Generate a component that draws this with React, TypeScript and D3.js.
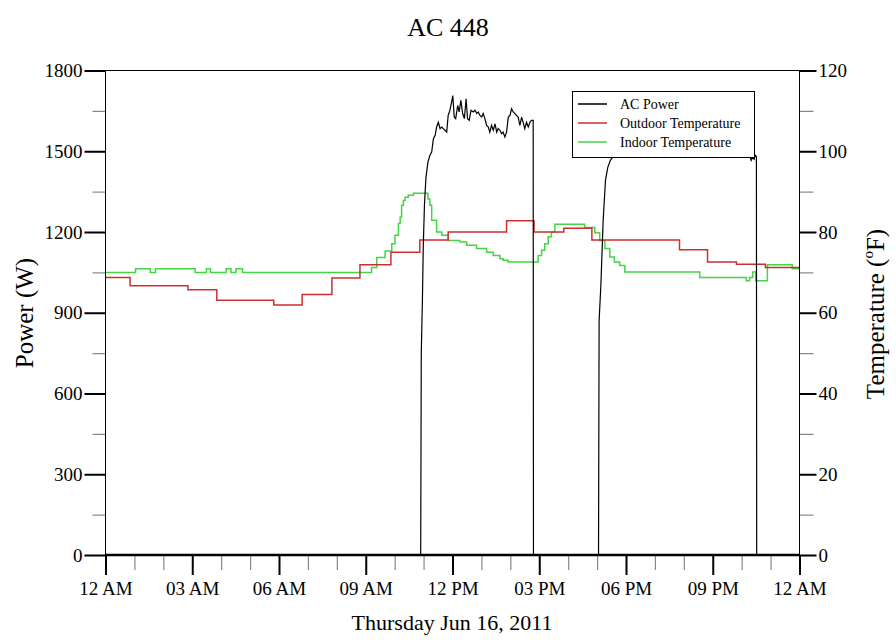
import React, { useRef, useEffect } from 'react';
import * as d3 from 'd3';

// hour of day, value
const outdoorTemp: [number, number][] = [
  [0, 68.7], [0.85, 66.7], [2.85, 65.7], [3.85, 63.1], [5.82, 61.9], [6.8, 64.5],
  [7.83, 68.6], [8.8, 71.9], [9.87, 75.0], [10.87, 78.0], [11.85, 80.0], [13.87, 82.8],
  [14.82, 80.0], [15.85, 80.9], [16.82, 78.0], [19.85, 75.6], [20.82, 72.6],
  [21.82, 72.0], [22.82, 71.2], [24, 71.2],
];

const indoorTemp: [number, number][] = [
  [0, 70.0], [1.04, 70.9], [1.55, 70.0], [1.73, 70.9], [3.1, 70.0], [3.49, 70.9],
  [3.63, 70.0], [4.17, 70.9], [4.34, 70.0], [4.51, 70.9], [4.74, 70.0], [9.2, 71.2],
  [9.38, 73.7], [9.67, 75.3], [9.9, 77.1], [10.01, 79.2], [10.13, 82.1], [10.19, 83.7],
  [10.24, 86.6], [10.3, 87.8], [10.36, 88.6], [10.47, 89.1], [10.65, 89.6], [11.15, 88.2],
  [11.22, 86.6], [11.28, 82.9], [11.45, 80.0], [11.63, 79.2], [11.85, 77.9], [12.26, 77.5],
  [12.49, 76.7], [12.83, 75.9], [13.18, 75.0], [13.41, 74.2], [13.64, 73.4], [13.75, 73.0],
  [13.92, 72.6], [14.96, 74.2], [15.08, 75.5], [15.19, 77.1], [15.31, 78.8], [15.42, 80.0],
  [15.54, 81.9], [16.57, 81.1], [16.92, 79.8], [17.09, 77.9], [17.27, 75.9], [17.44, 73.8],
  [17.6, 72.6], [17.78, 71.7], [17.96, 70.1], [20.55, 68.7], [22.16, 67.9], [22.27, 68.7],
  [22.38, 70.1], [22.49, 67.9], [22.89, 71.9], [23.75, 70.9], [24, 70.9],
];

const acPower: [number, number][] = [
  [0, 0], [10.9, 0], [10.92, 750], [10.96, 950], [10.99, 1150], [11.03, 1300], [11.08, 1400],
  [11.15, 1460], [11.22, 1485], [11.28, 1497], [11.34, 1547], [11.4, 1559], [11.45, 1590],
  [11.51, 1608], [11.57, 1584], [11.63, 1590], [11.68, 1584], [11.74, 1578], [11.8, 1571],
  [11.85, 1633], [11.91, 1652], [11.97, 1683], [12.01, 1707], [12.06, 1627], [12.11, 1621],
  [12.18, 1670], [12.23, 1646], [12.29, 1689], [12.35, 1640], [12.41, 1621], [12.47, 1695],
  [12.52, 1621], [12.58, 1615], [12.64, 1652], [12.72, 1646], [12.78, 1652], [12.84, 1640],
  [12.89, 1646], [12.95, 1633], [13.01, 1627], [13.06, 1640], [13.12, 1621], [13.18, 1596],
  [13.24, 1590], [13.29, 1571], [13.35, 1596], [13.41, 1578], [13.47, 1602], [13.53, 1571],
  [13.58, 1584], [13.64, 1578], [13.7, 1565], [13.75, 1571], [13.81, 1553], [13.87, 1571],
  [13.93, 1627], [13.99, 1633], [14.04, 1658], [14.1, 1646], [14.16, 1640], [14.21, 1633],
  [14.27, 1627], [14.33, 1596], [14.39, 1627], [14.44, 1608], [14.5, 1584], [14.56, 1608],
  [14.62, 1590], [14.68, 1608], [14.73, 1615], [14.79, 1615], [14.8, 0], [17.05, 0],
  [17.07, 870], [17.13, 1000], [17.21, 1243], [17.29, 1392], [17.37, 1440], [17.46, 1466],
  [17.55, 1480], [17.8, 1495], [18.2, 1510], [18.6, 1505], [19.0, 1520], [19.4, 1500],
  [19.8, 1515], [20.2, 1505], [20.6, 1498], [21.0, 1510], [21.4, 1500], [21.8, 1495],
  [22.2, 1505], [22.33, 1466], [22.37, 1477], [22.43, 1470], [22.47, 1485], [22.51, 1480],
  [22.52, 0], [24, 0],
];

const hourLabels = ['12 AM', '03 AM', '06 AM', '09 AM', '12 PM', '03 PM', '06 PM', '09 PM', '12 AM'];
const powerTicks = [0, 300, 600, 900, 1200, 1500, 1800];
const powerMinor = [150, 450, 750, 1050, 1350, 1650];
const tempTicks = [0, 20, 40, 60, 80, 100, 120];
const tempMinor = [10, 30, 50, 70, 90, 110];

const legendNames = ['AC Power', 'Outdoor Temperature', 'Indoor Temperature'];
const legendColors = ['#000000', '#cc2f2f', '#44d444'];

const FONT = "'Liberation Serif', 'Times New Roman', serif";

export default function App() {
  const svgRef = useRef<SVGSVGElement>(null);

  useEffect(() => {
    const svg = d3.select(svgRef.current);
    svg.selectAll('*').remove();

    const left = 105.5, right = 799.5, top = 70.5, bottom = 555;

    const x = d3.scaleLinear().domain([0, 24]).range([left, right]);
    const yP = d3.scaleLinear().domain([0, 1800]).range([bottom, top]);
    const yT = d3.scaleLinear().domain([0, 120]).range([bottom, top]);

    svg.append('rect').attr('width', 896).attr('height', 640).attr('fill', '#fff');

    // title + axis titles
    svg.append('text').attr('x', 448).attr('y', 36).attr('text-anchor', 'middle')
      .attr('font-family', FONT).attr('font-size', 26).text('AC 448');
    svg.append('text').attr('x', 452).attr('y', 630).attr('text-anchor', 'middle')
      .attr('font-family', FONT).attr('font-size', 22).text('Thursday Jun 16, 2011');
    svg.append('text').attr('transform', 'translate(33,313) rotate(-90)')
      .attr('text-anchor', 'middle').attr('font-family', FONT).attr('font-size', 25)
      .text('Power (W)');
    const tl = svg.append('text').attr('transform', 'translate(884,314) rotate(-90)')
      .attr('text-anchor', 'middle').attr('font-family', FONT).attr('font-size', 25);
    tl.append('tspan').text('Temperature (');
    tl.append('tspan').attr('font-size', 15).attr('dy', -11).text('o');
    tl.append('tspan').attr('dy', 11).text('F)');

    const styleAxis = (g: any, major: boolean) => {
      g.select('.domain').remove();
      g.selectAll('line').attr('stroke', major ? '#000' : '#888').attr('stroke-width', major ? 2 : 1.2);
      g.attr('font-family', FONT).attr('font-size', 19);
      g.selectAll('text').attr('fill', '#000');
    };
    const plain = d3.format('d');

    // left axis
    svg.append('g').attr('transform', `translate(${left},0)`)
      .call(d3.axisLeft(yP).tickValues(powerMinor).tickSize(13).tickFormat(() => ''))
      .call((g: any) => styleAxis(g, false));
    svg.append('g').attr('transform', `translate(${left},0)`)
      .call(d3.axisLeft(yP).tickValues(powerTicks).tickSize(21).tickPadding(2).tickFormat(plain))
      .call((g: any) => styleAxis(g, true));

    // right axis
    svg.append('g').attr('transform', `translate(${right},0)`)
      .call(d3.axisRight(yT).tickValues(tempMinor).tickSize(14).tickFormat(() => ''))
      .call((g: any) => styleAxis(g, false));
    svg.append('g').attr('transform', `translate(${right},0)`)
      .call(d3.axisRight(yT).tickValues(tempTicks).tickSize(17).tickPadding(2).tickFormat(plain))
      .call((g: any) => styleAxis(g, true));

    // bottom axis
    const hours = d3.range(0, 25);
    svg.append('g').attr('transform', `translate(0,${bottom})`)
      .call(d3.axisBottom(x).tickValues(hours.filter(h => h % 3 !== 0)).tickSize(15).tickFormat(() => ''))
      .call((g: any) => styleAxis(g, false));
    svg.append('g').attr('transform', `translate(0,${bottom})`)
      .call(d3.axisBottom(x).tickValues(hours.filter(h => h % 3 === 0)).tickSize(20).tickPadding(7)
        .tickFormat((d, i) => hourLabels[i]))
      .call((g: any) => styleAxis(g, true));

    // series
    const tempLine = d3.line<[number, number]>()
      .x(d => x(d[0])).y(d => yT(d[1])).curve(d3.curveStepAfter);
    const powerLine = d3.line<[number, number]>()
      .x(d => x(d[0])).y(d => yP(d[1]));

    svg.append('path').attr('d', tempLine(indoorTemp)).attr('fill', 'none')
      .attr('stroke', legendColors[2]).attr('stroke-width', 1.5);
    svg.append('path').attr('d', tempLine(outdoorTemp)).attr('fill', 'none')
      .attr('stroke', legendColors[1]).attr('stroke-width', 1.5);
    svg.append('path').attr('d', powerLine(acPower)).attr('fill', 'none')
      .attr('stroke', legendColors[0]).attr('stroke-width', 1.2);

    // frame
    svg.append('path').attr('d', `M${left},${bottom}V${top}H${right}V${bottom}`)
      .attr('fill', 'none').attr('stroke', '#000').attr('stroke-width', 1);
    svg.append('line').attr('x1', left).attr('x2', right).attr('y1', bottom).attr('y2', bottom)
      .attr('stroke', '#000').attr('stroke-width', 2.5);

    // legend
    const lg = svg.append('g');
    lg.append('rect').attr('x', 572.5).attr('y', 91.5).attr('width', 182).attr('height', 66)
      .attr('fill', '#fff').attr('stroke', '#000').attr('stroke-width', 1);
    const rowY = [104, 123, 142];
    legendNames.forEach((name, i) => {
      lg.append('line').attr('x1', 578).attr('x2', 607).attr('y1', rowY[i]).attr('y2', rowY[i])
        .attr('stroke', legendColors[i]).attr('stroke-width', 1.5);
      lg.append('text').attr('x', 620).attr('y', rowY[i] + 5)
        .attr('font-family', FONT).attr('font-size', 14).text(name);
    });
  }, []);

  return (
    <svg ref={svgRef} width={896} height={640}
      style={{ position: 'absolute', left: 0, top: 0, display: 'block' }} />
  );
}
